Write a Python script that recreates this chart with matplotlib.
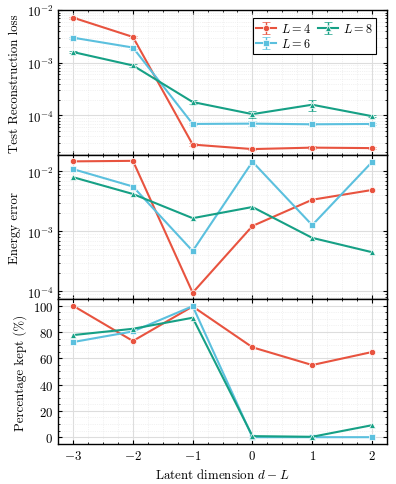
import numpy as np
import matplotlib
matplotlib.use("Agg")
import matplotlib.pyplot as plt
from matplotlib.ticker import LogLocator, MultipleLocator, NullFormatter

plt.rcParams.update({
    "font.family": ["cmr10", "DejaVu Serif"],
    "mathtext.fontset": "cm",
    "axes.formatter.use_mathtext": True,
    "font.size": 9.3,
    "axes.linewidth": 1.0,
    "xtick.direction": "in",
    "ytick.direction": "in",
    "xtick.top": True,
    "ytick.right": True,
    "xtick.minor.visible": True,
    "ytick.minor.visible": True,
    "xtick.major.size": 3,
    "ytick.major.size": 3,
    "xtick.minor.size": 1.5,
    "ytick.minor.size": 1.5,
})

x = [-3, -2, -1, 0, 1, 2]
labels = ["$L=4$", "$L=6$", "$L=8$"]
colors = ["#e8533f", "#5bc0de", "#16a085"]
markers = ["o", "s", "^"]

recon_L4 = [7.2e-3, 3.1e-3, 2.8e-5, 2.3e-5, 2.45e-5, 2.4e-5]
recon_L6 = [3.0e-3, 1.95e-3, 6.9e-5, 7.0e-5, 6.8e-5, 6.9e-5]
recon_L8 = [1.6e-3, 8.9e-4, 1.8e-4, 1.06e-4, 1.6e-4, 9.7e-5]
recon_err_L4 = [3e-4, 1.5e-4, 1.5e-6, 1e-6, 1.5e-6, 1e-6]
recon_err_L6 = [1.5e-4, 1e-4, 3e-6, 8e-6, 3e-6, 3e-6]
recon_err_L8 = [5e-5, 4e-5, 1.5e-5, 1.5e-5, 4e-5, 4e-6]

energy_L4 = [1.47e-2, 1.5e-2, 9.5e-5, 1.23e-3, 3.37e-3, 4.9e-3]
energy_L6 = [1.09e-2, 5.6e-3, 4.7e-4, 1.45e-2, 1.27e-3, 1.43e-2]
energy_L8 = [8.0e-3, 4.2e-3, 1.66e-3, 2.55e-3, 7.8e-4, 4.5e-4]

kept_L4 = [100, 73.2, 99.5, 68.4, 54.9, 64.8]
kept_L6 = [72.4, 80.5, 99.7, 0.0, 0.0, 0.0]
kept_L8 = [77.7, 82.5, 90.9, 0.8, 0.3, 9.1]

recon = [recon_L4, recon_L6, recon_L8]
recon_err = [recon_err_L4, recon_err_L6, recon_err_L8]
energy = [energy_L4, energy_L6, energy_L8]
kept = [kept_L4, kept_L6, kept_L8]

fig, axes = plt.subplots(3, 1, figsize=(3.96, 4.85), dpi=100, sharex=True)
fig.subplots_adjust(left=0.147, right=0.977, top=0.977, bottom=0.083, hspace=0)

ax1, ax2, ax3 = axes
ms = 4.5
for i in range(3):
    ax1.errorbar(x, recon[i], yerr=recon_err[i], color=colors[i], marker=markers[i],
                 ms=ms, mec="white", mew=0.5, lw=1.5, capsize=3, elinewidth=1,
                 label=labels[i])
    ax2.plot(x, energy[i], color=colors[i], marker=markers[i], ms=ms, mec="white",
             mew=0.5, lw=1.5)
    ax3.plot(x, kept[i], color=colors[i], marker=markers[i], ms=ms, mec="white",
             mew=0.5, lw=1.5)

for ax in (ax1, ax2):
    ax.set_yscale("log")
    ax.yaxis.set_minor_locator(LogLocator(base=10, subs=np.arange(2, 10), numticks=20))
    ax.yaxis.set_minor_formatter(NullFormatter())

ax1.set_ylim(1.8e-5, 1.0e-2)
ax2.set_ylim(7.4e-5, 1.9e-2)
ax3.set_ylim(-5, 105)
ax3.yaxis.set_major_locator(MultipleLocator(20))
ax3.yaxis.set_minor_locator(MultipleLocator(5))
ax3.set_xlim(-3.25, 2.25)
ax3.xaxis.set_major_locator(MultipleLocator(1))
ax3.xaxis.set_minor_locator(MultipleLocator(0.25))

for ax in axes:
    ax.grid(True, which="major", color="#dddddd", lw=0.8)
    ax.grid(True, which="minor", color="#e6e6e6", lw=0.5, ls=":")
    ax.set_axisbelow(True)

ax1.set_ylabel("Test Reconstruction loss")
ax2.set_ylabel("Energy error")
ax3.set_ylabel("Percentage kept (%)")
ax3.set_xlabel("Latent dimension $d-L$")

h, l = ax1.get_legend_handles_labels()
leg = ax1.legend(h, l, ncol=2, loc="upper right", fancybox=False, edgecolor="black",
                 framealpha=1, handlelength=1.6, columnspacing=0.6, borderpad=0.3,
                 labelspacing=0.15, handletextpad=0.4, fontsize=8.8,
                 bbox_to_anchor=(0.985, 0.985))
leg.get_frame().set_linewidth(0.8)

fig.savefig("out.png", dpi=100)
